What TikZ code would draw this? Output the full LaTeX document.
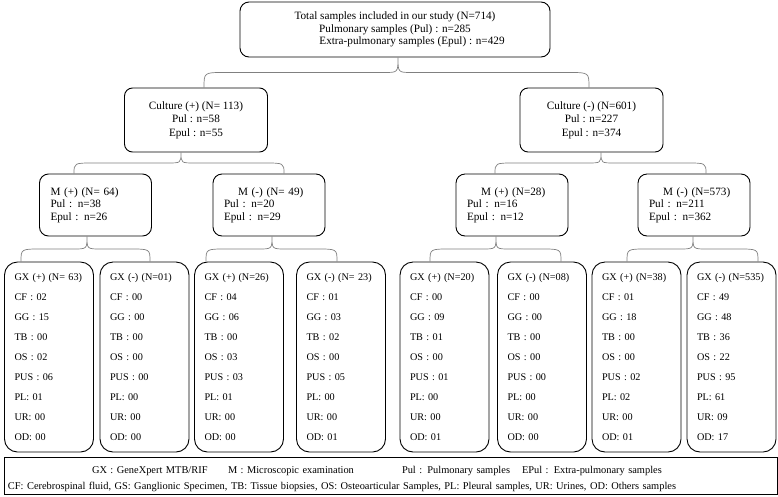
\documentclass[tikz,border=0pt]{standalone}
\usepackage{fontspec}
\setmainfont{Liberation Serif}
\usetikzlibrary{calc,positioning}

% curly brace from a parent box (tip) down to two children (ends)
\newcommand{\splitbrace}[3]{%
  \coordinate (arm) at ($(#1)!.5!(#2)$);
  \draw[brace] (#2) .. controls (#2 |- arm) .. ($(#2 |- arm)+(20,0)$)
    -- ($(#1 |- arm)+(-14,0)$) .. controls (#1 |- arm) .. (#1)
    .. controls (#1 |- arm) .. ($(#1 |- arm)+(14,0)$)
    -- ($(#3 |- arm)+(-20,0)$) .. controls (#3 |- arm) .. (#3);}

\tikzset{
  box/.style={draw, line width=0.9pt, inner sep=0pt},
  topbox/.style={box, rounded corners=9pt, minimum width=310pt, minimum height=55pt,
    align=center, font=\fontsize{11.2}{12.8}\selectfont},
  cultbox/.style={box, rounded corners=8pt, minimum width=143pt, minimum height=64pt,
    align=center, font=\fontsize{11.2}{13.5}\selectfont},
  mbox/.style={box, rounded corners=9pt, inner xsep=11pt, text width=90pt,
    minimum height=62pt, align=left, font=\fontsize{11.2}{12.5}\selectfont},
  gxbox/.style={box, rounded corners=13pt, inner xsep=10pt, text width=69pt,
    minimum height=190pt, align=left, font=\fontsize{10.2}{20}\selectfont},
  legendbox/.style={draw, line width=0.8pt, minimum width=773pt, minimum height=37pt},
  legendtext/.style={inner sep=0pt, text width=765pt, align=left,
    font=\fontsize{10.4}{15.5}\selectfont},
  brace/.style={draw=gray, line width=0.7pt}
}

\begin{document}
\begin{tikzpicture}[x=1pt, y=-1pt]
  \useasboundingbox (0,0) rectangle (778,496);

  % root
  \node[topbox] (total) at (395,29.5) {Total samples included in our study (N=714)\\
    Pulmonary samples (Pul) : n=285\\
    \hspace*{34pt}Extra-pulmonary samples (Epul) : n=429};

  % culture
  \node[cultbox] (cultpos) at (196,120) {Culture (+) (N= 113)\\Pul : n=58\\Epul : n=55};
  \node[cultbox] (cultneg) at (591.5,120) {Culture (-) (N=601)\\Pul : n=227\\Epul : n=374};

  % microscopy
  \node[mbox] (mpos1) at (95.5,205) {M (+) (N= 64)\\Pul : n=38\\Epul : n=26};
  \node[mbox] (mneg1) at (269,205) {\hspace*{14pt}M (-) (N= 49)\\Pul : n=20\\Epul : n=29};
  \node[mbox] (mpos2) at (512,205) {\hspace*{14pt}M (+) (N=28)\\Pul : n=16\\Epul : n=12};
  \node[mbox] (mneg2) at (694,205) {\hspace*{14pt}M (-) (N=573)\\Pul : n=211\\Epul : n=362};

  % GeneXpert
  \node[gxbox] (gx1) at (49,357) {GX (+) (N= 63)\\CF : 02\\GG : 15\\TB : 00\\OS : 02\\PUS : 06\\PL: 01\\UR: 00\\OD: 00};
  \node[gxbox] (gx2) at (144.5,357) {GX (-) (N=01)\\CF : 00\\GG : 00\\TB : 00\\OS : 00\\PUS : 00\\PL: 00\\UR: 00\\OD: 00};
  \node[gxbox] (gx3) at (239,357) {GX (+) (N=26)\\CF : 04\\GG : 06\\TB : 00\\OS : 03\\PUS : 03\\PL: 01\\UR: 00\\OD: 00};
  \node[gxbox] (gx4) at (341,357) {GX (-) (N= 23)\\CF : 01\\GG : 03\\TB : 02\\OS : 00\\PUS : 05\\PL: 00\\UR: 00\\OD: 01};
  \node[gxbox] (gx5) at (444.5,357) {GX (+) (N=20)\\CF : 00\\GG : 09\\TB : 01\\OS : 00\\PUS : 01\\PL: 00\\UR: 00\\OD: 01};
  \node[gxbox] (gx6) at (542,357) {GX (-) (N=08)\\CF : 00\\GG : 00\\TB : 00\\OS : 00\\PUS : 00\\PL: 00\\UR: 00\\OD: 00};
  \node[gxbox] (gx7) at (636.5,357) {GX (+) (N=38)\\CF : 01\\GG : 18\\TB : 00\\OS : 00\\PUS : 02\\PL: 02\\UR: 00\\OD: 01};
  \node[gxbox] (gx8) at (731.5,357) {GX (-) (N=535)\\CF : 49\\GG : 48\\TB : 36\\OS : 22\\PUS : 95\\PL: 61\\UR: 09\\OD: 17};

  % legend
  \node[legendbox] (legend) at (390.5,475.5) {};
  \node[legendtext] (legendtxt) at ($(legend.center)+(0,3.5)$) {\hspace*{84pt}\makebox[136pt][l]{GX : GeneXpert MTB/RIF}\makebox[174pt][l]{M : Microscopic examination}\makebox[120pt][l]{Pul : Pulmonary samples}EPul : Extra-pulmonary samples\\
    CF: Cerebrospinal fluid, GS: Ganglionic Specimen, TB: Tissue biopsies, OS: Osteoarticular Samples, PL: Pleural samples, UR: Urines, OD: Others samples};

  % brace points
  \coordinate (t0) at ($(total.south)+(3,0)$);
  \coordinate (l0) at ($(cultpos.north)+(8,0)$);
  \coordinate (r0) at ($(cultneg.north)+(-2.5,0)$);
  \coordinate (t1) at ($(cultpos.south)+(-15,0)$);
  \coordinate (l1) at ($(mpos1.north)+(-21.5,0)$);
  \coordinate (r1) at ($(mneg1.north)+(15,0)$);
  \coordinate (t2) at ($(cultneg.south)+(9.5,0)$);
  \coordinate (l2) at ($(mpos2.north)+(-17,0)$);
  \coordinate (r2) at ($(mneg2.north)+(12,0)$);
  \coordinate (t3) at ($(mpos1.south)+(-8.5,0)$);
  \coordinate (l3) at ($(gx1.north)+(-28,0)$);
  \coordinate (r3) at ($(gx2.north)+(5.5,0)$);
  \coordinate (t4) at ($(mneg1.south)+(3,0)$);
  \coordinate (l4) at ($(gx3.north)+(-33,0)$);
  \coordinate (r4) at ($(gx4.north)+(-4,0)$);
  \coordinate (t5) at ($(mpos2.south)+(-16,0)$);
  \coordinate (l5) at ($(gx5.north)+(-14.5,0)$);
  \coordinate (r5) at ($(gx6.north)+(19,0)$);
  \coordinate (t6) at ($(mneg2.south)+(-1,0)$);
  \coordinate (l6) at ($(gx7.north)+(-9.5,0)$);
  \coordinate (r6) at ($(gx8.north)+(26.5,0)$);

  % braces
  \splitbrace{t0}{l0}{r0}
  \splitbrace{t1}{l1}{r1}
  \splitbrace{t2}{l2}{r2}
  \splitbrace{t3}{l3}{r3}
  \splitbrace{t4}{l4}{r4}
  \splitbrace{t5}{l5}{r5}
  \splitbrace{t6}{l6}{r6}
\end{tikzpicture}
\end{document}
